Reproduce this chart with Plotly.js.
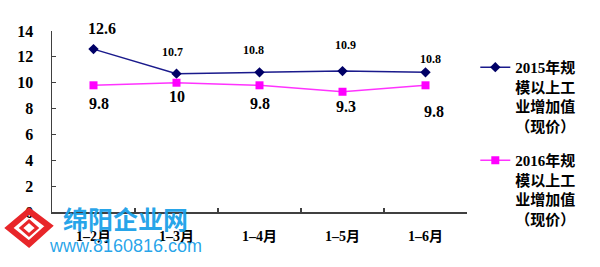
<!DOCTYPE html>
<html>
<head>
<meta charset="utf-8">
<script src="https://cdn.plot.ly/plotly-3.0.1.min.js"></script>
<style>html,body{margin:0;padding:0;background:#fff;}#chart{width:600px;height:267px;}</style>
</head>
<body>
<div id="chart"></div>
<script>
var categories = ["1–2月", "1–3月", "1–4月", "1–5月", "1–6月"];
var series2015 = [12.6, 10.7, 10.8, 10.9, 10.8];
var series2016 = [9.8, 10, 9.8, 9.3, 9.8];
var labels2015 = ["12.6", "10.7", "10.8", "10.9", "10.8"];
var labels2016 = ["9.8", "10", "9.8", "9.3", "9.8"];
var name2015 = "2015年规<br>模以上工<br>业增加值<br>（现价）";
var name2016 = "2016年规<br>模以上工<br>业增加值<br>（现价）";
var yTicks = [0, 2, 4, 6, 8, 10, 12, 14];

// label offsets (pixels) for the data labels
var off2015 = [[8, 21, 16], [-4, 22, 12], [-6, 22, 12], [3, 26, 12], [5, 13, 12]];
var off2016 = [[5, -18, 16], [0, -14, 16], [0, -18, 16], [3, -15, 16], [8, -26, 16]];

var numFont = "Liberation Serif, DejaVu Serif, serif";
var cjkFont = "Liberation Serif, Noto Sans CJK SC, serif";

var traces = [
  {x: categories, y: series2015, name: name2015, type: "scatter", mode: "lines+markers",
   line: {color: "#1a1a8c", width: 1.5}, marker: {symbol: "diamond", size: 8, color: "#000066"},
   legendgroup: "a"},
  {x: categories, y: series2016, name: name2016, type: "scatter", mode: "lines+markers",
   line: {color: "#ff33ff", width: 1.5}, marker: {symbol: "square", size: 8, color: "#ff00ff"},
   legendgroup: "b"}
];

var annotations = [];
categories.forEach(function (c, i) {
  annotations.push({x: c, y: series2015[i], text: "<b>" + labels2015[i] + "</b>", showarrow: false,
    xshift: off2015[i][0], yshift: off2015[i][1], font: {family: numFont, size: off2015[i][2], color: "#000"}});
  annotations.push({x: c, y: series2016[i], text: "<b>" + labels2016[i] + "</b>", showarrow: false,
    xshift: off2016[i][0], yshift: off2016[i][1], font: {family: numFont, size: off2016[i][2], color: "#000"}});
});

// watermark helpers (pixel -> paper)
var L = 52, R = 467, T = 31, B = 212;
function px(x) { return (x - L) / (R - L); }
function py(y) { return (B - y) / (B - T); }

annotations.push({xref: "paper", yref: "paper", x: px(125), y: py(218), text: "<b>绵阳企业网</b>",
  showarrow: false, xanchor: "center", yanchor: "middle",
  font: {family: "Noto Sans CJK SC", size: 25, color: "rgba(25,160,232,0.95)"}});
annotations.push({xref: "paper", yref: "paper", x: px(125), y: py(246), text: "www.8160816.com",
  showarrow: false, xanchor: "center", yanchor: "middle",
  font: {family: "Liberation Sans, Arial, sans-serif", size: 18, color: "rgba(25,160,232,0.95)"}});

function poly(pts) {
  return "M" + pts.map(function (p) { return px(p[0]) + "," + py(p[1]); }).join(" L") + " Z";
}
var shapes = [
  {type: "path", xref: "paper", yref: "paper", path: poly([[29, 211], [49, 226], [29, 244], [9, 228]]),
   line: {color: "#e8262a", width: 6}, fillcolor: "rgba(0,0,0,0)"},
  {type: "path", xref: "paper", yref: "paper", path: poly([[29, 221], [37, 228], [29, 235], [21, 228]]),
   line: {color: "#e8262a", width: 3}, fillcolor: "rgba(0,0,0,0)"}
];

var layout = {
  width: 600, height: 267,
  margin: {l: L, r: 600 - R, t: T, b: 267 - B},
  paper_bgcolor: "#fff", plot_bgcolor: "#fff",
  showlegend: true,
  legend: {x: 1.02, xanchor: "left", y: 0.89, yanchor: "top", traceorder: "grouped", tracegroupgap: 12,
    valign: "top",
    font: {family: cjkFont, size: 15, color: "#000", weight: "bold"}, bgcolor: "rgba(0,0,0,0)", itemwidth: 30},
  xaxis: {type: "category", range: [-0.5, 4.5], autorange: false, showgrid: false, zeroline: false, showline: true,
    linecolor: "#404040", linewidth: 1.5,
    ticks: "inside", ticklen: 4, tickcolor: "#404040", tickwidth: 1.2, tickson: "boundaries",
    ticklabelstandoff: 11,
    tickfont: {family: cjkFont, size: 14, color: "#000", weight: "bold"}},
  yaxis: {range: [0, 14], tickvals: yTicks, showgrid: false, zeroline: false, showline: true, linecolor: "#404040",
    linewidth: 1.5, ticks: "inside", ticklen: 4, tickcolor: "#404040", tickwidth: 1.2,
    ticklabelstandoff: 14,
    tickfont: {family: numFont, size: 16, color: "#000", weight: "bold"}},
  annotations: annotations,
  shapes: shapes
};

Plotly.newPlot("chart", traces, layout, {displayModeBar: false, staticPlot: true});
</script>
</body>
</html>
